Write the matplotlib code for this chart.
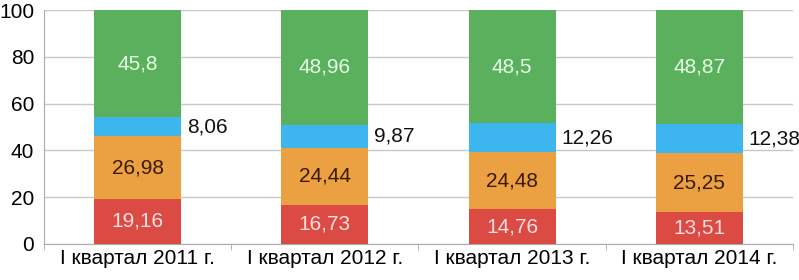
import matplotlib.pyplot as plt
import numpy as np

categories = ['I квартал 2011 г.', 'I квартал 2012 г.', 'I квартал 2013 г.', 'I квартал 2014 г.']
red_vals = [19.16, 16.73, 14.76, 13.51]
orange_vals = [26.98, 24.44, 24.48, 25.25]
blue_vals = [8.06, 9.87, 12.26, 12.38]
green_vals = [45.8, 48.96, 48.5, 48.87]

plt.rcParams['font.family'] = ['Liberation Sans', 'DejaVu Sans']

fig = plt.figure(figsize=(7.99, 2.8), dpi=100)
ax = fig.add_axes([0.055, 0.129, 0.9375, 0.835])

x = np.arange(len(categories))
w = 0.465
series = [
    (red_vals, '#dc4a44', '#ffe0e0'),
    (orange_vals, '#eba042', '#3a1a00'),
    (blue_vals, '#3db6ef', None),
    (green_vals, '#5bb05e', '#e4ffe4'),
]
bottom = np.zeros(len(categories))
for vals, col, tcol in series:
    vals = np.array(vals)
    ax.bar(x, vals, w, bottom=bottom, color=col, zorder=3)
    for i, v in enumerate(vals):
        lab = ('%g' % v).replace('.', ',')
        yc = bottom[i] + v / 2
        if tcol is None:
            # blue segment value sits to the right of the bar
            ax.text(x[i] + w / 2 + 0.03, yc, lab, ha='left', va='center', fontsize=15, color='#111111', zorder=4)
        else:
            ax.text(x[i], yc, lab, ha='center', va='center', fontsize=15, color=tcol, zorder=4)
    bottom += vals

ax.set_xlim(-0.5, len(categories) - 0.5)
ax.set_ylim(0, 100)
ax.set_yticks(range(0, 101, 20))
ax.tick_params(axis='y', length=0, labelsize=15, pad=7)
ax.set_xticks(x)
ax.set_xticklabels(categories, fontsize=15)
ax.tick_params(axis='x', length=0, pad=4)
ax.set_xticks(np.arange(-0.5, len(categories), 1), minor=True)
ax.tick_params(axis='x', which='minor', length=4, color='#aaaaaa', direction='out')
ax.grid(axis='y', color='#c8c8c8', linewidth=1, zorder=0)
for s in ['top', 'right']:
    ax.spines[s].set_visible(False)
ax.spines['left'].set_color('#aaaaaa')
ax.spines['bottom'].set_color('#aaaaaa')

fig.savefig('out.png', dpi=100)
